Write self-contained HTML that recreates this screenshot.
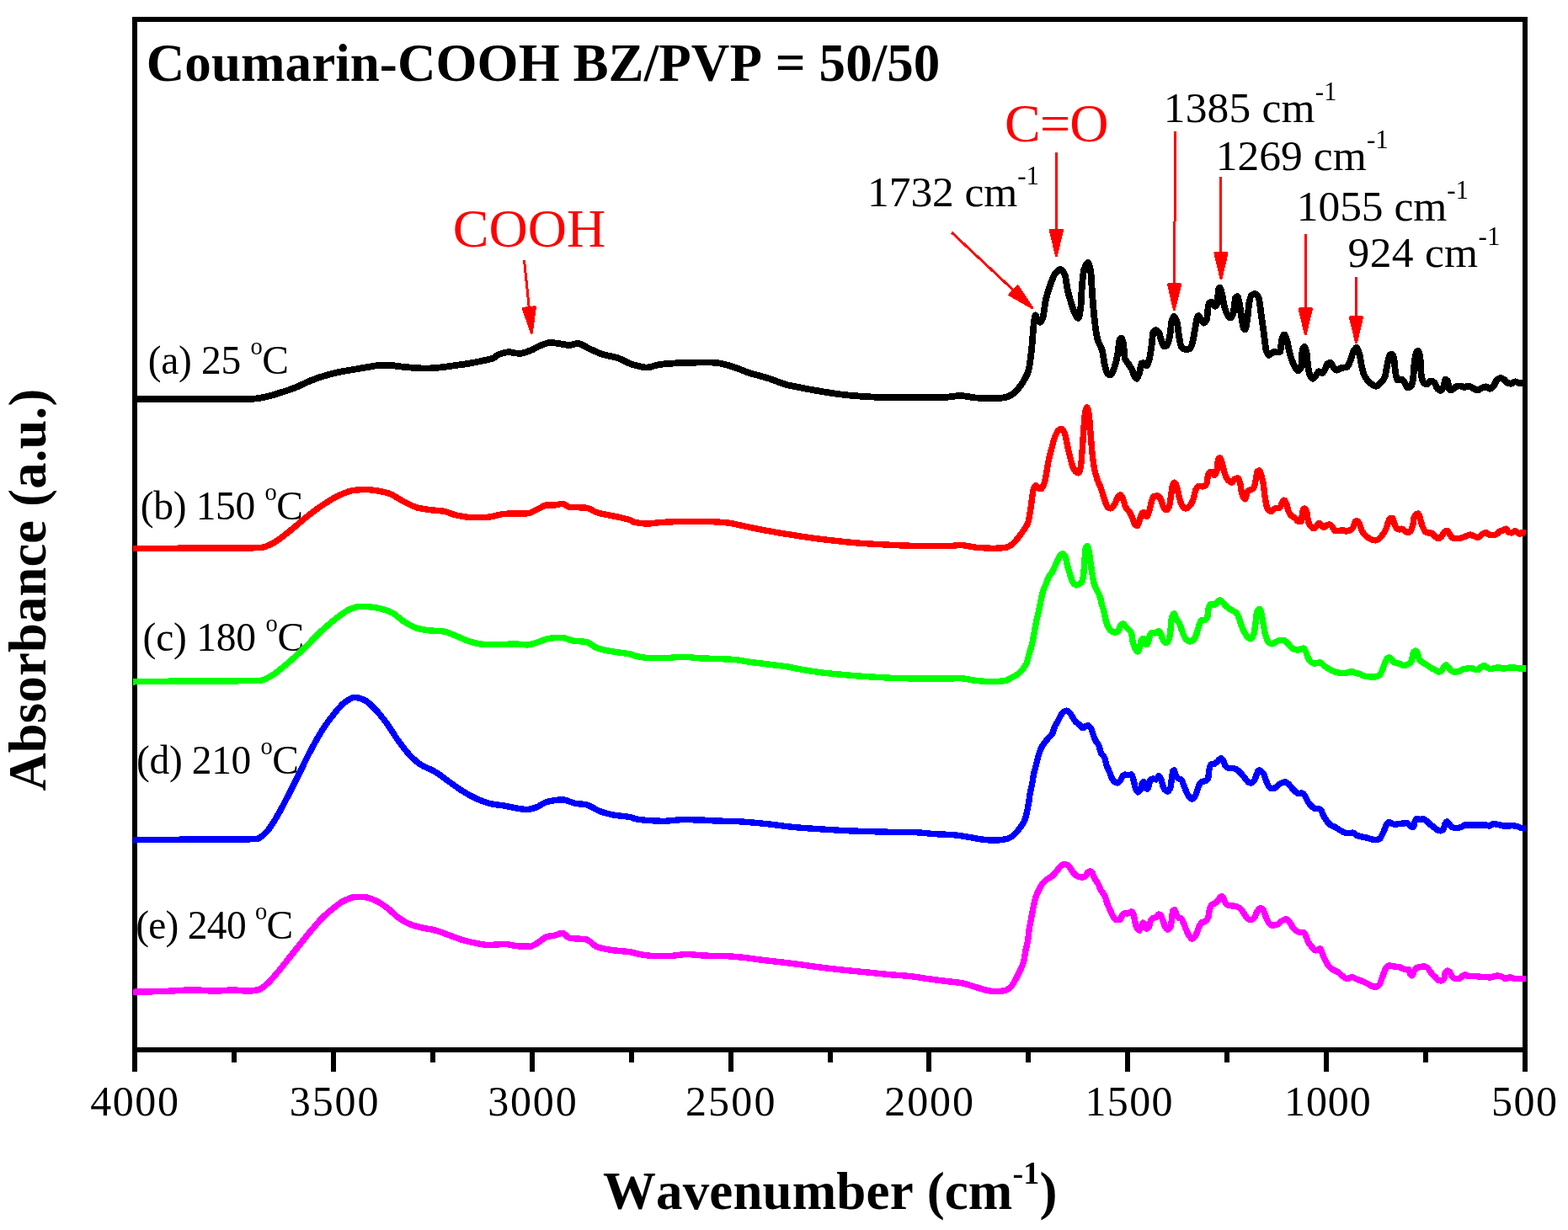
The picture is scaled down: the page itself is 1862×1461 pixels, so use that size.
<!DOCTYPE html>
<html lang="en">
<head>
<meta charset="utf-8">
<title>FTIR spectra - Coumarin-COOH BZ/PVP = 50/50</title>
<style>
html,body{margin:0;padding:0;background:#fff;}
body{width:1862px;height:1461px;overflow:hidden;}
svg{display:block;}
text{font-family:"Liberation Serif", "DejaVu Serif", serif;fill:#000;white-space:pre;font-kerning:none;}
.b{font-weight:bold;}
.r{fill:#ff0000;}
.crv{fill:none;stroke-linejoin:round;stroke-linecap:butt;shape-rendering:crispEdges;}
#arrows,#frame{shape-rendering:crispEdges;}
</style>
</head>
<body>
<svg width="1862" height="1461" viewBox="0 0 1862 1461">
<rect x="0" y="0" width="1862" height="1461" fill="#ffffff"/>

<g id="frame" stroke="#000" stroke-width="6" fill="none" stroke-linecap="butt">
<rect x="160.0" y="23.0" width="1651.0" height="1224.0"/>
<line x1="160.00" y1="1247.0" x2="160.00" y2="1273" stroke-width="6"/>
<line x1="277.93" y1="1247.0" x2="277.93" y2="1261.5" stroke-width="6"/>
<line x1="395.86" y1="1247.0" x2="395.86" y2="1273" stroke-width="6"/>
<line x1="513.79" y1="1247.0" x2="513.79" y2="1261.5" stroke-width="6"/>
<line x1="631.71" y1="1247.0" x2="631.71" y2="1273" stroke-width="6"/>
<line x1="749.64" y1="1247.0" x2="749.64" y2="1261.5" stroke-width="6"/>
<line x1="867.57" y1="1247.0" x2="867.57" y2="1273" stroke-width="6"/>
<line x1="985.50" y1="1247.0" x2="985.50" y2="1261.5" stroke-width="6"/>
<line x1="1103.43" y1="1247.0" x2="1103.43" y2="1273" stroke-width="6"/>
<line x1="1221.36" y1="1247.0" x2="1221.36" y2="1261.5" stroke-width="6"/>
<line x1="1339.29" y1="1247.0" x2="1339.29" y2="1273" stroke-width="6"/>
<line x1="1457.21" y1="1247.0" x2="1457.21" y2="1261.5" stroke-width="6"/>
<line x1="1575.14" y1="1247.0" x2="1575.14" y2="1273" stroke-width="6"/>
<line x1="1693.07" y1="1247.0" x2="1693.07" y2="1261.5" stroke-width="6"/>
<line x1="1811.00" y1="1247.0" x2="1811.00" y2="1273" stroke-width="6"/>
</g>
<g id="labels">
<text x="175.7" y="444.2" font-size="47.5" letter-spacing="-0.325">(a) 25 <tspan font-size="28.5" dy="-23">o</tspan><tspan dy="23">C</tspan></text>
<text x="166.8" y="617.1" font-size="47.5" letter-spacing="-0.344">(b) 150 <tspan font-size="28.5" dy="-23">o</tspan><tspan dy="23">C</tspan></text>
<text x="169.6" y="772.8" font-size="47.5" letter-spacing="-0.244">(c) 180 <tspan font-size="28.5" dy="-23">o</tspan><tspan dy="23">C</tspan></text>
<text x="162.1" y="918.9" font-size="47.5" letter-spacing="-0.378">(d) 210 <tspan font-size="28.5" dy="-23">o</tspan><tspan dy="23">C</tspan></text>
<text x="161.2" y="1114.9" font-size="47.5" letter-spacing="-0.733">(e) 240 <tspan font-size="28.5" dy="-23">o</tspan><tspan dy="23">C</tspan></text>
</g>
<g id="curves">
<path class="crv" stroke="#000000" stroke-width="7.8" d="M158.0,473.8C159.7,473.8 161.3,473.8 163.0,473.8C208.7,473.8 254.3,473.8 300.0,473.7C305.7,473.7 311.5,472.2 317.2,471.0C322.9,469.8 328.7,467.8 334.4,466.0C340.1,464.2 345.9,462.3 351.6,460.0C357.3,457.7 363.0,454.5 368.7,452.2C374.4,449.9 380.2,447.9 385.9,446.2C391.6,444.5 397.4,443.1 403.1,441.9C408.8,440.7 414.6,439.9 420.3,438.9C426.0,437.9 431.8,436.8 437.5,435.9C443.2,435.0 449.0,433.6 454.7,433.6C457.6,433.6 460.4,433.6 463.3,433.6C466.2,433.6 469.0,434.6 471.9,435.0C477.6,435.7 483.3,436.3 489.0,436.7C494.7,437.1 500.5,437.6 506.2,437.6C511.9,437.6 517.7,436.9 523.4,436.4C529.1,435.9 534.9,434.9 540.6,434.1C546.3,433.3 552.1,432.6 557.8,431.6C563.5,430.6 569.3,429.4 575.0,428.1C578.4,427.3 581.9,426.8 585.3,425.5C587.6,424.7 589.8,422.0 592.1,421.2C596.1,419.7 600.2,418.2 604.2,418.2C607.1,418.2 609.9,419.3 612.8,419.5C614.5,419.6 616.3,419.8 618.0,419.8C621.8,419.8 625.7,417.9 629.5,416.5C634.0,414.9 638.5,411.6 643.0,410.0C646.3,408.8 649.7,407.0 653.0,407.0C657.3,407.0 661.7,407.9 666.0,408.5C669.3,408.9 672.7,410.0 676.0,410.0C679.3,410.0 682.7,408.0 686.0,408.0C690.5,408.0 695.0,412.0 699.5,414.0C705.0,416.4 710.5,419.3 716.0,421.0C721.7,422.7 727.3,423.2 733.0,425.0C738.5,426.7 744.0,430.7 749.5,432.5C750.8,432.9 752.1,433.3 753.4,433.6C758.3,434.8 763.3,436.6 768.2,436.6C773.1,436.6 778.1,433.6 783.0,433.0C791.0,432.0 799.0,431.5 807.0,431.2C818.7,430.8 830.3,430.4 842.0,430.4C846.5,430.4 851.0,431.1 855.5,431.7C861.7,432.6 867.8,435.0 874.0,437.0C879.3,438.7 884.7,441.3 890.0,443.0C897.3,445.4 904.7,446.9 912.0,449.2C919.0,451.4 926.0,454.8 933.0,456.7C940.3,458.6 947.7,459.9 955.0,461.3C963.9,463.0 972.8,464.6 981.7,466.0C990.6,467.4 999.6,468.8 1008.5,469.6C1017.5,470.4 1026.4,471.1 1035.4,471.5C1044.3,471.9 1053.1,472.3 1062.0,472.3C1071.0,472.3 1080.0,472.3 1089.0,472.3C1099.8,472.3 1110.5,472.2 1121.3,472.0C1127.5,471.9 1133.8,470.0 1140.0,470.0C1146.3,470.0 1152.7,472.1 1159.0,472.5C1166.1,472.9 1173.3,473.3 1180.4,473.3C1184.9,473.3 1189.3,472.7 1193.8,472.0C1196.4,471.6 1199.1,470.2 1201.7,468.7C1204.6,467.0 1207.4,463.6 1210.3,460.1C1212.6,457.3 1214.9,454.1 1217.2,449.8C1218.6,447.1 1220.1,444.7 1221.5,439.5C1222.3,436.5 1223.2,430.3 1224.0,424.0C1224.6,419.4 1225.2,413.3 1225.8,406.9C1226.4,400.8 1226.9,390.7 1227.5,386.2C1228.2,380.7 1228.9,374.2 1229.6,374.2C1230.3,374.2 1231.1,378.3 1231.8,379.4C1232.9,381.0 1234.1,382.8 1235.2,382.8C1236.4,382.8 1237.5,379.5 1238.7,376.0C1239.8,372.7 1240.9,360.1 1242.0,355.3C1243.8,347.6 1245.5,342.9 1247.3,338.1C1249.3,332.7 1251.3,326.6 1253.3,324.4C1255.3,322.2 1257.3,320.0 1259.3,320.0C1261.0,320.0 1262.7,322.6 1264.4,326.0C1265.6,328.3 1266.7,339.9 1267.9,345.0C1269.3,351.3 1270.8,356.1 1272.2,360.5C1273.9,365.8 1275.6,371.4 1277.3,374.2C1278.3,375.9 1279.4,378.0 1280.4,378.0C1281.4,378.0 1282.3,372.5 1283.3,365.6C1283.9,361.6 1284.4,343.8 1285.0,338.0C1285.9,329.1 1286.7,321.6 1287.6,319.2C1289.1,315.1 1290.5,312.0 1292.0,312.0C1293.1,312.0 1294.3,317.2 1295.4,324.4C1295.9,327.8 1296.5,341.4 1297.0,348.4C1297.9,360.2 1298.8,371.7 1299.7,379.4C1300.8,388.8 1301.9,397.4 1303.0,401.7C1305.0,409.4 1307.0,409.6 1309.0,417.0C1309.9,420.3 1310.8,428.7 1311.7,432.6C1312.8,437.3 1313.9,442.9 1315.0,443.8C1316.2,444.8 1317.4,445.5 1318.6,445.5C1320.0,445.5 1321.5,441.3 1322.9,437.8C1324.3,434.3 1325.8,428.0 1327.2,420.6C1328.0,416.3 1328.9,404.7 1329.7,403.4C1330.3,402.4 1330.9,401.7 1331.5,401.7C1332.3,401.7 1333.2,404.9 1334.0,408.6C1334.6,411.2 1335.2,424.1 1335.8,425.8C1336.9,429.0 1338.1,429.2 1339.2,431.0C1340.9,433.7 1342.7,435.9 1344.4,439.5C1345.3,441.3 1346.1,444.8 1347.0,446.4C1347.8,447.9 1348.7,449.8 1349.5,449.8C1350.7,449.8 1351.8,446.2 1353.0,443.0C1353.8,440.7 1354.7,432.3 1355.5,431.8C1356.3,431.3 1357.2,431.0 1358.0,431.0C1359.2,431.0 1360.3,434.4 1361.5,434.4C1362.7,434.4 1363.8,429.9 1365.0,425.8C1365.9,422.7 1366.7,416.6 1367.6,410.3C1368.2,406.2 1368.7,395.9 1369.3,394.8C1370.2,393.1 1371.0,392.2 1371.9,392.2C1373.3,392.2 1374.8,393.2 1376.2,394.8C1377.0,395.7 1377.9,401.1 1378.7,403.4C1379.9,406.6 1381.0,411.2 1382.2,411.2C1383.3,411.2 1384.5,410.9 1385.6,410.3C1386.7,409.7 1387.9,404.9 1389.0,400.0C1389.9,396.2 1390.7,383.6 1391.6,381.0C1392.5,378.4 1393.3,376.0 1394.2,376.0C1395.3,376.0 1396.5,379.2 1397.6,382.8C1398.5,385.5 1399.3,395.3 1400.2,400.0C1401.1,404.7 1401.9,410.8 1402.8,412.0C1403.9,413.5 1405.1,414.6 1406.2,414.6C1408.2,414.6 1410.2,414.6 1412.2,414.6C1413.4,414.6 1414.5,411.6 1415.7,408.6C1416.8,405.7 1417.9,397.1 1419.0,391.4C1419.9,386.8 1420.8,379.6 1421.7,377.6C1422.3,376.3 1422.8,375.0 1423.4,375.0C1424.5,375.0 1425.7,379.5 1426.8,381.0C1427.7,382.1 1428.5,383.7 1429.4,383.7C1430.6,383.7 1431.7,382.0 1432.9,379.4C1433.7,377.6 1434.6,361.3 1435.4,360.5C1436.6,359.3 1437.7,358.7 1438.9,358.7C1440.3,358.7 1441.8,363.9 1443.2,363.9C1444.0,363.9 1444.9,361.9 1445.7,358.7C1446.1,357.0 1446.6,344.3 1447.0,343.3C1447.4,342.3 1447.9,341.6 1448.3,341.6C1449.2,341.6 1450.0,345.4 1450.9,348.4C1451.8,351.4 1452.6,358.9 1453.5,362.2C1454.9,367.6 1456.4,372.1 1457.8,374.2C1458.9,375.8 1460.1,377.6 1461.2,377.6C1462.4,377.6 1463.5,374.4 1464.7,370.8C1465.5,368.2 1466.4,354.8 1467.2,353.6C1467.9,352.6 1468.6,351.9 1469.3,351.9C1470.0,351.9 1470.8,355.6 1471.5,358.7C1472.4,362.3 1473.2,370.8 1474.1,375.9C1475.0,381.0 1475.8,388.3 1476.7,389.7C1477.3,390.6 1477.8,391.4 1478.4,391.4C1479.3,391.4 1480.1,385.7 1481.0,381.0C1481.9,376.3 1482.7,362.6 1483.6,358.7C1484.4,354.9 1485.3,351.7 1486.1,351.0C1487.5,349.8 1489.0,349.0 1490.4,349.0C1491.8,349.0 1493.3,350.8 1494.7,353.6C1495.6,355.3 1496.4,364.9 1497.3,370.8C1498.4,378.5 1499.6,386.7 1500.7,394.8C1501.7,402.2 1502.8,414.7 1503.8,417.2C1504.9,419.9 1506.1,422.0 1507.2,422.0C1508.8,422.0 1510.4,418.0 1512.0,418.0C1513.7,418.0 1515.5,418.5 1517.2,418.5C1518.3,418.5 1519.5,418.2 1520.6,417.2C1521.1,416.8 1521.5,405.1 1522.0,403.4C1523.0,399.8 1523.9,397.4 1524.9,397.4C1526.1,397.4 1527.2,401.6 1528.4,405.0C1529.5,408.3 1530.7,416.7 1531.8,420.6C1533.5,426.5 1535.3,431.2 1537.0,434.4C1538.4,437.0 1539.8,440.4 1541.2,440.4C1542.5,440.4 1543.7,439.0 1545.0,436.0C1545.6,434.7 1546.1,417.1 1546.7,415.5C1547.5,413.3 1548.2,412.0 1549.0,412.0C1549.9,412.0 1550.7,415.2 1551.6,419.0C1552.2,421.5 1552.7,432.7 1553.3,436.0C1554.2,441.1 1555.0,445.0 1555.9,446.4C1557.0,448.3 1558.2,449.8 1559.3,449.8C1560.7,449.8 1562.2,446.5 1563.6,444.7C1564.5,443.6 1565.3,441.2 1566.2,441.2C1567.6,441.2 1569.1,443.0 1570.5,443.0C1571.6,443.0 1572.8,439.9 1573.9,437.8C1574.8,436.2 1575.6,432.2 1576.5,431.8C1577.6,431.3 1578.8,431.0 1579.9,431.0C1581.0,431.0 1582.2,434.7 1583.3,436.0C1584.7,437.6 1586.2,439.8 1587.6,439.8C1589.3,439.8 1591.1,437.4 1592.8,437.0C1595.1,436.5 1597.4,436.7 1599.7,436.0C1600.8,435.7 1602.0,431.8 1603.1,429.2C1604.5,425.9 1606.0,419.7 1607.4,417.2C1608.5,415.3 1609.7,412.9 1610.8,412.9C1612.0,412.9 1613.1,416.9 1614.3,420.6C1615.2,423.4 1616.0,430.7 1616.9,434.4C1618.0,439.2 1619.2,444.2 1620.3,446.4C1622.6,450.9 1624.9,453.2 1627.2,455.0C1629.5,456.7 1631.7,458.8 1634.0,458.8C1636.3,458.8 1638.7,455.8 1641.0,453.3C1642.1,452.1 1643.3,450.7 1644.4,448.0C1645.5,445.3 1646.7,435.8 1647.8,431.0C1648.7,427.4 1649.5,422.0 1650.4,421.5C1651.3,421.0 1652.1,420.6 1653.0,420.6C1653.8,420.6 1654.7,423.8 1655.5,427.5C1656.1,430.0 1656.6,440.2 1657.2,443.0C1658.1,447.3 1658.9,451.5 1659.8,451.5C1661.5,451.5 1663.3,450.7 1665.0,450.7C1666.1,450.7 1667.3,453.3 1668.4,455.0C1669.3,456.3 1670.1,460.0 1671.0,460.0C1672.4,460.0 1673.9,459.8 1675.3,459.3C1676.2,459.0 1677.0,455.8 1677.9,451.5C1678.5,448.7 1679.0,435.1 1679.6,431.0C1680.5,424.7 1681.3,418.9 1682.2,418.0C1682.9,417.3 1683.5,416.8 1684.2,416.8C1685.0,416.8 1685.7,420.7 1686.5,425.8C1686.9,428.5 1687.3,442.3 1687.7,444.7C1688.7,451.0 1689.8,454.1 1690.8,455.0C1691.9,456.0 1693.1,456.7 1694.2,456.7C1695.9,456.7 1697.6,452.4 1699.3,452.4C1700.7,452.4 1702.2,453.6 1703.6,455.0C1704.7,456.1 1705.9,460.8 1707.0,461.8C1708.2,462.9 1709.3,463.9 1710.5,463.9C1711.7,463.9 1712.8,462.1 1714.0,460.0C1714.8,458.5 1715.7,450.7 1716.5,450.7C1717.3,450.7 1718.2,451.4 1719.0,452.4C1719.6,453.2 1720.2,461.0 1720.8,461.8C1721.7,462.9 1722.5,463.6 1723.4,463.6C1725.1,463.6 1726.9,459.8 1728.6,459.3C1730.3,458.8 1732.0,458.4 1733.7,458.4C1735.4,458.4 1737.2,460.0 1738.9,460.0C1740.6,460.0 1742.3,458.4 1744.0,458.4C1745.7,458.4 1747.5,460.1 1749.2,461.0C1750.9,461.9 1752.6,463.6 1754.3,463.6C1756.0,463.6 1757.8,461.7 1759.5,461.0C1761.2,460.3 1762.9,459.3 1764.6,459.3C1766.1,459.3 1767.5,461.8 1769.0,461.8C1770.4,461.8 1771.8,460.6 1773.2,459.3C1774.6,458.0 1776.1,452.8 1777.5,451.5C1778.9,450.2 1780.4,449.0 1781.8,449.0C1783.2,449.0 1784.7,449.9 1786.1,450.7C1787.5,451.5 1789.0,454.6 1790.4,455.0C1791.8,455.4 1793.3,455.8 1794.7,455.8C1796.1,455.8 1797.6,453.3 1799.0,453.3C1800.7,453.3 1802.5,454.7 1804.2,455.0C1806.8,455.4 1809.4,455.5 1812.0,455.8"/>
<path class="crv" stroke="#ff0000" stroke-width="7.4" d="M158.0,651.5C158.7,651.5 159.3,651.5 160.0,651.5C183.3,651.5 206.6,651.1 229.9,651.1C247.7,651.1 265.4,651.1 283.2,651.1C292.1,651.1 300.9,650.9 309.8,650.5C314.2,650.3 318.7,647.9 323.1,645.8C329.8,642.7 336.4,636.6 343.1,631.5C349.8,626.4 356.4,620.0 363.1,614.8C369.8,609.6 376.4,604.3 383.1,599.9C389.8,595.5 396.4,591.1 403.1,588.2C408.6,585.8 414.2,583.2 419.7,582.5C424.1,582.0 428.6,581.5 433.0,581.5C438.6,581.5 444.1,582.4 449.7,583.2C454.1,583.9 458.6,585.0 463.0,586.5C468.5,588.4 474.1,593.2 479.6,595.9C485.2,598.6 490.7,601.8 496.3,603.2C500.7,604.3 505.2,604.9 509.6,605.5C515.2,606.2 520.7,606.4 526.3,607.2C531.8,608.0 537.4,611.2 542.9,612.2C548.5,613.3 554.0,614.5 559.6,614.5C566.2,614.5 572.9,614.4 579.5,614.2C585.1,614.0 590.6,611.4 596.2,610.8C600.6,610.3 605.1,609.8 609.5,609.8C615.1,609.8 620.6,609.8 626.2,609.8C630.6,609.8 635.1,606.1 639.5,604.2C642.8,602.8 646.2,599.9 649.5,599.9C652.8,599.9 656.2,599.9 659.5,599.9C662.3,599.9 665.0,598.2 667.8,598.2C670.6,598.2 673.3,601.9 676.1,602.2C682.8,602.9 689.4,602.6 696.1,603.2C700.5,603.6 705.0,607.6 709.4,608.9C716.1,610.9 722.7,611.7 729.4,613.2C736.1,614.7 742.7,615.7 749.4,618.2C750.7,618.7 752.1,620.1 753.4,620.4C758.8,621.4 764.1,622.0 769.5,622.0C774.9,622.0 780.2,620.7 785.6,620.4C793.7,620.0 801.7,619.6 809.8,619.6C822.3,619.6 834.9,619.7 847.4,619.8C852.8,619.9 858.1,620.4 863.5,620.9C870.7,621.6 877.8,623.8 885.0,625.2C894.0,627.0 902.9,629.0 911.9,630.6C920.8,632.2 929.8,633.7 938.7,635.1C947.7,636.5 956.6,638.0 965.6,639.2C974.5,640.4 983.5,641.4 992.4,642.4C1001.4,643.4 1010.3,644.4 1019.3,645.1C1028.2,645.8 1037.2,646.2 1046.1,646.7C1055.1,647.2 1064.0,647.7 1073.0,648.0C1081.9,648.3 1090.9,648.6 1099.8,648.6C1108.8,648.6 1117.7,648.6 1126.7,648.6C1131.2,648.6 1135.6,647.5 1140.1,647.5C1146.4,647.5 1152.6,649.7 1158.9,650.2C1166.1,650.7 1173.2,651.3 1180.4,651.3C1184.9,651.3 1189.3,651.0 1193.8,650.5C1195.9,650.3 1197.9,649.1 1200.0,647.9C1202.9,646.2 1205.7,642.6 1208.6,639.3C1210.9,636.6 1213.2,633.3 1215.5,629.8C1217.2,627.2 1218.9,625.7 1220.6,621.2C1221.6,618.5 1222.7,612.0 1223.7,605.8C1224.4,601.6 1225.1,594.9 1225.8,590.3C1226.4,586.5 1226.9,581.3 1227.5,580.0C1228.4,578.0 1229.2,576.6 1230.1,576.6C1231.2,576.6 1232.4,579.5 1233.5,580.0C1234.4,580.4 1235.2,580.8 1236.1,580.8C1237.5,580.8 1239.0,577.1 1240.4,573.1C1241.3,570.7 1242.1,564.1 1243.0,559.4C1243.8,554.9 1244.7,549.5 1245.5,545.6C1246.7,540.2 1247.8,536.2 1249.0,531.9C1250.1,527.7 1251.3,522.7 1252.4,519.8C1253.8,516.1 1255.3,512.5 1256.7,511.2C1257.9,510.2 1259.0,509.2 1260.2,509.2C1261.6,509.2 1263.0,511.8 1264.4,514.7C1265.4,516.8 1266.4,523.9 1267.4,528.4C1268.4,533.1 1269.5,538.1 1270.5,542.2C1271.6,546.7 1272.8,551.5 1273.9,554.2C1275.0,556.9 1276.2,559.3 1277.3,560.2C1278.3,561.1 1279.4,561.9 1280.4,561.9C1281.4,561.9 1282.4,558.6 1283.4,554.2C1284.0,551.7 1284.5,542.4 1285.1,535.3C1285.7,528.2 1286.2,518.6 1286.8,511.2C1287.4,503.8 1287.9,493.5 1288.5,490.6C1289.2,486.9 1290.0,483.7 1290.7,483.7C1291.5,483.7 1292.3,487.8 1293.1,492.3C1293.7,495.7 1294.3,506.0 1294.9,513.0C1295.6,521.5 1296.4,532.1 1297.1,538.7C1298.0,546.5 1298.8,553.4 1299.7,557.6C1300.8,563.1 1302.0,566.4 1303.1,569.7C1304.5,573.8 1306.0,576.1 1307.4,580.0C1308.8,583.9 1310.3,589.7 1311.7,593.7C1312.8,596.9 1314.0,601.4 1315.1,602.3C1316.3,603.3 1317.4,604.0 1318.6,604.0C1320.3,604.0 1322.0,601.3 1323.7,598.9C1325.1,596.9 1326.6,590.8 1328.0,589.4C1328.9,588.6 1329.7,587.7 1330.6,587.7C1331.7,587.7 1332.9,591.1 1334.0,593.7C1334.9,595.7 1335.7,600.7 1336.6,602.3C1338.0,604.9 1339.5,605.3 1340.9,607.5C1342.1,609.3 1343.2,611.8 1344.4,614.4C1345.5,616.9 1346.7,621.9 1347.8,623.0C1348.7,623.9 1349.5,624.7 1350.4,624.7C1351.5,624.7 1352.7,619.0 1353.8,616.1C1354.7,613.9 1355.5,609.4 1356.4,609.2C1357.3,609.0 1358.1,608.9 1359.0,608.9C1359.8,608.9 1360.7,613.5 1361.5,613.5C1362.7,613.5 1363.8,609.1 1365.0,605.8C1365.9,603.3 1366.7,598.1 1367.6,595.5C1368.4,593.0 1369.3,589.5 1370.1,589.4C1371.8,589.2 1373.6,589.1 1375.3,589.1C1376.4,589.1 1377.6,591.6 1378.7,593.7C1379.6,595.3 1380.4,599.9 1381.3,601.5C1382.4,603.6 1383.6,605.8 1384.7,605.8C1385.9,605.8 1387.0,604.4 1388.2,602.3C1389.1,600.8 1389.9,592.1 1390.8,586.9C1391.4,583.5 1391.9,578.1 1392.5,576.6C1393.2,574.7 1394.0,573.1 1394.7,573.1C1395.7,573.1 1396.6,575.8 1397.6,578.3C1398.5,580.6 1399.3,587.2 1400.2,590.3C1401.4,594.5 1402.5,599.1 1403.7,600.6C1405.1,602.4 1406.5,604.0 1407.9,604.0C1409.6,604.0 1411.4,602.3 1413.1,600.6C1414.5,599.2 1416.0,595.9 1417.4,592.0C1418.3,589.6 1419.1,583.4 1420.0,581.7C1421.1,579.5 1422.3,577.4 1423.4,577.4C1425.1,577.4 1426.9,577.9 1428.6,577.9C1430.0,577.9 1431.5,576.9 1432.9,574.8C1433.5,574.0 1434.0,565.8 1434.6,564.5C1435.7,561.9 1436.9,560.2 1438.0,560.2C1439.4,560.2 1440.9,564.5 1442.3,564.5C1443.2,564.5 1444.0,562.3 1444.9,559.4C1445.5,557.5 1446.0,546.5 1446.6,545.6C1447.3,544.5 1448.0,543.9 1448.7,543.9C1449.4,543.9 1450.2,546.9 1450.9,549.1C1451.8,551.6 1452.6,556.8 1453.5,559.4C1454.9,563.8 1456.4,568.2 1457.8,569.7C1459.5,571.5 1461.2,573.1 1462.9,573.1C1464.1,573.1 1465.2,569.3 1466.4,568.8C1467.5,568.4 1468.7,568.0 1469.8,568.0C1470.7,568.0 1471.5,570.6 1472.4,573.1C1473.3,575.6 1474.1,584.6 1475.0,586.9C1476.1,590.0 1477.3,592.9 1478.4,592.9C1479.5,592.9 1480.7,584.3 1481.8,583.4C1483.0,582.4 1484.1,582.3 1485.3,581.7C1486.4,581.1 1487.6,581.0 1488.7,580.0C1489.6,579.2 1490.4,573.8 1491.3,569.7C1491.9,567.0 1492.4,560.8 1493.0,560.2C1493.8,559.4 1494.5,558.9 1495.3,558.9C1496.3,558.9 1497.2,563.2 1498.2,566.2C1498.8,568.1 1499.4,570.1 1500.0,573.1C1500.9,577.5 1501.7,589.1 1502.6,593.7C1503.5,598.3 1504.3,602.8 1505.2,604.0C1506.6,606.0 1508.1,607.5 1509.5,607.5C1511.2,607.5 1512.9,604.0 1514.6,603.7C1516.3,603.4 1518.1,603.6 1519.8,603.2C1520.6,603.0 1521.5,598.5 1522.3,597.2C1523.2,595.8 1524.0,594.1 1524.9,594.1C1525.8,594.1 1526.6,596.2 1527.5,598.0C1528.4,599.8 1529.2,605.6 1530.1,607.5C1531.2,610.0 1532.4,611.6 1533.5,612.6C1534.9,613.9 1536.4,614.1 1537.8,615.2C1539.2,616.3 1540.7,619.5 1542.1,619.5C1543.2,619.5 1544.4,619.5 1545.5,619.5C1545.9,619.5 1546.3,608.6 1546.7,607.5C1547.5,605.3 1548.2,604.0 1549.0,604.0C1549.9,604.0 1550.7,605.5 1551.6,607.5C1552.3,609.0 1552.9,617.5 1553.6,619.5C1554.6,622.6 1555.7,624.5 1556.7,625.5C1557.9,626.7 1559.0,627.8 1560.2,627.8C1561.3,627.8 1562.5,625.8 1563.6,624.7C1564.6,623.7 1565.7,621.2 1566.7,621.2C1567.7,621.2 1568.6,623.9 1569.6,624.7C1570.5,625.4 1571.3,626.4 1572.2,626.4C1573.3,626.4 1574.5,624.2 1575.6,623.8C1576.8,623.4 1577.9,623.0 1579.1,623.0C1580.2,623.0 1581.4,625.1 1582.5,626.4C1583.6,627.7 1584.8,630.7 1585.9,630.7C1587.6,630.7 1589.4,630.4 1591.1,630.2C1592.2,630.1 1593.4,629.8 1594.5,629.8C1595.9,629.8 1597.4,631.0 1598.8,631.0C1600.2,631.0 1601.7,630.4 1603.1,629.8C1604.5,629.2 1606.0,627.9 1607.4,625.5C1608.0,624.5 1608.5,619.9 1609.1,619.5C1609.9,619.0 1610.6,618.7 1611.4,618.7C1612.4,618.7 1613.3,620.5 1614.3,622.1C1615.2,623.6 1616.0,628.0 1616.9,629.8C1618.0,632.1 1619.2,633.8 1620.3,635.0C1622.0,636.9 1623.8,638.3 1625.5,639.3C1627.2,640.3 1628.9,641.2 1630.6,641.5C1631.7,641.7 1632.9,641.9 1634.0,641.9C1635.4,641.9 1636.9,640.5 1638.3,639.3C1639.7,638.1 1641.2,636.1 1642.6,634.1C1643.8,632.4 1644.9,630.8 1646.1,628.1C1647.0,626.1 1647.8,621.5 1648.7,619.5C1649.5,617.6 1650.4,615.2 1651.2,615.2C1652.1,615.2 1652.9,615.2 1653.8,615.2C1654.4,615.2 1654.9,619.6 1655.5,621.2C1656.4,623.7 1657.2,626.6 1658.1,627.3C1659.2,628.3 1660.4,629.0 1661.5,629.0C1662.7,629.0 1663.8,628.1 1665.0,628.1C1666.1,628.1 1667.3,630.0 1668.4,630.7C1669.6,631.5 1670.7,632.7 1671.9,632.7C1673.0,632.7 1674.2,631.8 1675.3,630.7C1676.2,629.8 1677.0,626.7 1677.9,623.0C1678.3,621.3 1678.7,616.3 1679.1,615.2C1680.1,612.4 1681.2,611.0 1682.2,610.6C1682.9,610.3 1683.5,610.1 1684.2,610.1C1685.0,610.1 1685.7,613.8 1686.5,616.1C1687.3,618.6 1688.2,622.6 1689.0,624.7C1690.2,627.6 1691.3,630.7 1692.5,631.5C1693.6,632.3 1694.8,632.7 1695.9,632.9C1697.3,633.1 1698.8,633.0 1700.2,633.3C1701.4,633.5 1702.5,635.8 1703.7,636.7C1705.1,637.8 1706.5,639.6 1707.9,639.6C1709.1,639.6 1710.2,638.6 1711.4,637.6C1712.5,636.7 1713.7,633.4 1714.8,632.4C1716.0,631.4 1717.1,630.2 1718.3,630.2C1719.1,630.2 1720.0,632.2 1720.8,633.3C1722.0,634.9 1723.1,637.8 1724.3,638.4C1725.7,639.2 1727.2,639.8 1728.6,639.8C1730.3,639.8 1732.0,639.6 1733.7,639.3C1735.4,639.0 1737.2,638.2 1738.9,637.6C1740.0,637.2 1741.2,636.8 1742.3,636.4C1743.5,636.0 1744.6,635.0 1745.8,635.0C1747.2,635.0 1748.7,636.2 1750.1,636.7C1751.8,637.3 1753.5,638.4 1755.2,638.4C1756.6,638.4 1758.1,635.9 1759.5,635.0C1761.2,633.9 1763.0,632.4 1764.7,632.4C1765.8,632.4 1767.0,634.7 1768.1,635.0C1769.8,635.5 1771.6,635.8 1773.3,635.8C1774.7,635.8 1776.2,634.9 1777.6,634.1C1779.0,633.4 1780.4,631.2 1781.8,630.7C1783.0,630.3 1784.1,630.2 1785.3,629.8C1786.3,629.4 1787.4,628.1 1788.4,628.1C1789.4,628.1 1790.3,632.2 1791.3,632.4C1792.7,632.7 1794.2,632.9 1795.6,632.9C1796.7,632.9 1797.9,630.7 1799.0,630.7C1800.7,630.7 1802.5,634.1 1804.2,634.1C1805.3,634.1 1806.5,632.4 1807.6,632.4C1809.0,632.4 1810.5,633.0 1811.9,633.3"/>
<path class="crv" stroke="#00ff00" stroke-width="7.4" d="M158.0,809.8C158.7,809.8 159.3,809.8 160.0,809.8C183.3,809.8 206.6,808.8 229.9,808.8C247.7,808.8 265.4,808.8 283.2,808.8C292.1,808.8 300.9,808.6 309.8,808.2C313.7,808.0 317.6,805.3 321.5,803.2C328.7,799.3 335.9,792.5 343.1,786.5C349.8,780.9 356.4,774.6 363.1,768.2C369.8,761.8 376.4,754.2 383.1,748.2C389.8,742.2 396.4,736.3 403.1,731.6C407.5,728.4 412.0,724.8 416.4,723.2C420.3,721.8 424.1,720.2 428.0,720.2C431.9,720.2 435.8,720.6 439.7,720.9C444.1,721.3 448.6,722.1 453.0,723.2C457.4,724.3 461.9,726.0 466.3,728.2C470.7,730.4 475.2,735.5 479.6,738.2C485.2,741.6 490.7,745.2 496.3,746.6C500.7,747.7 505.2,748.5 509.6,748.9C515.2,749.4 520.7,749.3 526.3,749.9C531.8,750.5 537.4,753.8 542.9,755.9C548.5,758.0 554.0,761.1 559.6,762.5C565.1,763.9 570.7,765.5 576.2,765.5C582.9,765.5 589.5,765.5 596.2,765.5C600.6,765.5 605.1,764.9 609.5,764.9C615.1,764.9 620.6,765.9 626.2,765.9C630.6,765.9 635.1,763.8 639.5,762.5C643.9,761.2 648.4,758.7 652.8,758.2C657.8,757.6 662.8,757.2 667.8,757.2C671.7,757.2 675.5,760.3 679.4,760.9C685.0,761.7 690.5,761.6 696.1,762.5C700.5,763.2 705.0,768.5 709.4,769.9C716.1,772.0 722.7,773.0 729.4,774.2C736.1,775.4 742.7,775.6 749.4,777.2C750.7,777.5 752.1,778.5 753.4,778.8C758.8,780.2 764.1,781.3 769.5,781.5C775.8,781.7 782.0,781.8 788.3,781.8C795.5,781.8 802.6,780.2 809.8,780.2C817.0,780.2 824.1,781.4 831.3,781.8C838.5,782.2 845.6,782.3 852.8,782.6C859.1,782.8 865.3,783.0 871.6,783.4C877.9,783.8 884.1,785.4 890.4,786.3C897.6,787.3 904.7,788.1 911.9,789.0C919.0,789.9 926.2,790.6 933.3,791.7C940.5,792.8 947.6,794.5 954.8,795.7C962.0,796.9 969.1,798.1 976.3,799.0C983.5,799.9 990.6,800.4 997.8,801.1C1005.0,801.8 1012.1,802.5 1019.3,803.0C1026.5,803.5 1033.6,803.9 1040.8,804.3C1047.9,804.7 1055.1,805.2 1062.2,805.4C1071.2,805.7 1080.1,805.9 1089.1,806.0C1098.0,806.1 1107.0,806.2 1115.9,806.2C1124.0,806.2 1132.0,805.7 1140.1,805.7C1146.4,805.7 1152.6,807.8 1158.9,808.4C1165.2,809.0 1171.4,809.7 1177.7,809.7C1183.1,809.7 1188.4,809.3 1193.8,808.6C1195.9,808.3 1197.9,806.7 1200.0,805.6C1202.3,804.4 1204.6,803.4 1206.9,801.9C1209.2,800.4 1211.4,798.4 1213.7,795.8C1215.4,793.8 1217.2,791.8 1218.9,788.1C1220.0,785.7 1221.2,780.1 1222.3,776.1C1223.5,772.0 1224.6,768.9 1225.8,764.0C1226.7,760.3 1227.5,755.0 1228.4,750.3C1229.2,745.8 1230.1,740.5 1230.9,736.6C1231.8,732.6 1232.6,730.1 1233.5,726.2C1234.4,722.3 1235.2,716.4 1236.1,712.5C1237.0,708.6 1237.8,704.9 1238.7,702.2C1239.8,698.7 1241.0,696.5 1242.1,693.6C1243.2,690.7 1244.4,687.1 1245.5,685.0C1246.9,682.4 1248.4,681.5 1249.8,679.0C1251.0,677.0 1252.1,673.7 1253.3,671.2C1254.4,668.8 1255.6,666.7 1256.7,664.4C1257.6,662.6 1258.4,659.5 1259.3,658.9C1260.2,658.3 1261.0,657.8 1261.9,657.8C1263.0,657.8 1264.2,659.6 1265.3,661.8C1266.0,663.2 1266.7,668.5 1267.4,671.2C1268.4,675.2 1269.5,678.3 1270.5,681.6C1271.3,684.3 1272.2,687.5 1273.0,689.3C1273.9,691.2 1274.7,692.9 1275.6,693.6C1276.5,694.3 1277.3,695.0 1278.2,695.0C1279.6,695.0 1281.1,694.1 1282.5,693.2C1283.4,692.6 1284.2,691.9 1285.1,690.2C1285.7,689.1 1286.2,686.0 1286.8,681.6C1287.2,678.5 1287.6,669.1 1288.0,664.4C1288.5,658.9 1288.9,651.6 1289.4,650.6C1290.0,649.4 1290.5,648.6 1291.1,648.6C1291.8,648.6 1292.4,651.4 1293.1,654.1C1293.7,656.5 1294.3,663.7 1294.9,667.8C1295.6,672.9 1296.4,677.3 1297.1,681.6C1297.8,685.9 1298.6,691.2 1299.3,693.6C1300.6,697.8 1301.8,699.4 1303.1,702.2C1304.3,704.8 1305.4,706.3 1306.6,709.9C1307.2,711.6 1307.7,715.5 1308.3,717.6C1309.1,720.7 1310.0,722.1 1310.8,725.4C1311.4,727.8 1312.0,732.4 1312.6,734.8C1313.4,738.1 1314.3,740.7 1315.1,742.6C1316.3,745.2 1317.4,747.5 1318.6,748.6C1319.7,749.7 1320.9,750.8 1322.0,750.8C1323.4,750.8 1324.9,750.8 1326.3,750.8C1327.2,750.8 1328.0,749.2 1328.9,747.7C1329.5,746.7 1330.0,743.2 1330.6,742.6C1331.6,741.5 1332.7,740.8 1333.7,740.8C1334.7,740.8 1335.6,743.3 1336.6,744.3C1337.8,745.6 1338.9,746.4 1340.1,747.7C1341.2,748.9 1342.4,749.4 1343.5,752.0C1344.1,753.3 1344.6,760.0 1345.2,762.3C1346.1,765.9 1346.9,768.5 1347.8,770.1C1348.8,772.0 1349.9,774.0 1350.9,774.0C1351.9,774.0 1352.8,770.5 1353.8,767.5C1354.4,765.7 1354.9,760.3 1355.5,759.8C1356.4,759.0 1357.2,758.5 1358.1,758.5C1358.7,758.5 1359.2,760.3 1359.8,761.5C1360.4,762.7 1360.9,765.8 1361.5,765.8C1362.4,765.8 1363.2,763.0 1364.1,760.6C1364.7,759.0 1365.2,754.6 1365.8,753.7C1366.7,752.3 1367.5,751.2 1368.4,751.2C1369.6,751.2 1370.7,752.0 1371.9,752.0C1373.3,752.0 1374.8,749.4 1376.2,749.4C1377.0,749.4 1377.9,752.0 1378.7,753.7C1379.6,755.5 1380.4,759.4 1381.3,760.6C1382.4,762.2 1383.6,763.7 1384.7,763.7C1385.9,763.7 1387.0,762.2 1388.2,759.8C1388.8,758.6 1389.3,752.9 1389.9,748.6C1390.5,744.3 1391.0,734.8 1391.6,733.1C1392.5,730.6 1393.3,728.8 1394.2,728.8C1395.1,728.8 1395.9,733.2 1396.8,734.8C1397.9,736.9 1399.1,737.8 1400.2,740.0C1401.1,741.7 1401.9,744.6 1402.8,746.9C1403.7,749.2 1404.5,751.8 1405.4,753.7C1406.5,756.1 1407.7,758.9 1408.8,759.8C1410.2,761.0 1411.7,762.0 1413.1,762.0C1414.8,762.0 1416.6,760.6 1418.3,758.9C1419.4,757.8 1420.6,753.6 1421.7,750.3C1422.6,747.8 1423.4,743.8 1424.3,741.7C1425.2,739.6 1426.0,736.8 1426.9,736.6C1428.3,736.3 1429.7,736.5 1431.1,736.2C1432.0,736.0 1432.8,735.0 1433.7,733.1C1434.3,731.9 1434.8,722.5 1435.4,721.1C1436.3,718.9 1437.1,717.3 1438.0,717.3C1439.4,717.3 1440.9,718.5 1442.3,718.5C1443.5,718.5 1444.6,716.2 1445.8,715.1C1446.6,714.3 1447.5,712.8 1448.3,712.8C1449.5,712.8 1450.6,714.1 1451.8,715.1C1452.9,716.1 1454.1,718.3 1455.2,719.4C1456.6,720.8 1458.1,721.8 1459.5,722.8C1461.2,724.0 1463.0,724.8 1464.7,725.9C1466.1,726.8 1467.6,727.2 1469.0,728.8C1469.8,729.7 1470.7,732.6 1471.5,734.8C1472.7,737.9 1473.8,742.3 1475.0,745.1C1476.4,748.5 1477.9,751.5 1479.3,753.7C1480.4,755.4 1481.6,757.4 1482.7,758.0C1483.7,758.5 1484.6,758.9 1485.6,758.9C1486.6,758.9 1487.7,756.5 1488.7,753.7C1489.4,751.8 1490.1,746.6 1490.8,741.7C1491.3,738.5 1491.7,731.9 1492.2,729.7C1492.8,727.0 1493.3,724.5 1493.9,724.2C1494.6,723.9 1495.2,723.7 1495.9,723.7C1496.7,723.7 1497.4,726.9 1498.2,729.7C1498.8,731.9 1499.4,736.7 1500.0,740.0C1500.9,744.8 1501.7,750.7 1502.6,753.7C1503.7,757.6 1504.9,761.2 1506.0,762.3C1507.4,763.7 1508.9,764.9 1510.3,764.9C1512.0,764.9 1513.8,763.1 1515.5,762.3C1516.9,761.6 1518.4,760.3 1519.8,760.3C1521.2,760.3 1522.7,760.3 1524.1,760.3C1525.5,760.3 1527.0,762.0 1528.4,763.2C1529.8,764.4 1531.3,767.0 1532.7,768.3C1534.1,769.5 1535.5,770.9 1536.9,771.3C1538.3,771.7 1539.8,772.1 1541.2,772.1C1542.4,772.1 1543.5,771.2 1544.7,770.9C1545.8,770.6 1547.0,770.1 1548.1,770.1C1549.0,770.1 1549.8,772.6 1550.7,774.4C1551.6,776.2 1552.4,779.5 1553.3,781.2C1554.4,783.4 1555.6,785.7 1556.7,786.4C1558.1,787.3 1559.6,788.1 1561.0,788.1C1562.1,788.1 1563.3,787.5 1564.4,787.3C1565.6,787.1 1566.7,786.9 1567.9,786.9C1569.3,786.9 1570.8,789.6 1572.2,790.7C1573.9,792.0 1575.6,793.1 1577.3,794.1C1579.6,795.4 1581.9,796.8 1584.2,797.6C1586.5,798.4 1588.8,799.0 1591.1,799.3C1593.1,799.5 1595.1,799.8 1597.1,799.8C1598.5,799.8 1600.0,798.6 1601.4,798.4C1602.8,798.2 1604.3,797.9 1605.7,797.9C1607.1,797.9 1608.6,798.9 1610.0,799.3C1611.7,799.8 1613.4,800.1 1615.1,800.7C1616.8,801.3 1618.6,802.8 1620.3,803.1C1622.6,803.5 1624.9,803.9 1627.2,803.9C1629.5,803.9 1631.7,803.9 1634.0,803.9C1635.4,803.9 1636.9,803.0 1638.3,801.9C1639.5,801.0 1640.6,797.7 1641.8,795.0C1642.7,793.0 1643.5,790.3 1644.4,788.1C1645.2,786.0 1646.1,782.7 1646.9,782.1C1647.8,781.4 1648.6,780.9 1649.5,780.9C1650.7,780.9 1651.8,782.7 1653.0,783.8C1654.1,784.8 1655.3,787.0 1656.4,787.3C1658.1,787.8 1659.8,787.7 1661.5,788.1C1663.2,788.5 1665.0,790.7 1666.7,790.7C1668.4,790.7 1670.2,789.8 1671.9,789.0C1673.3,788.3 1674.8,787.8 1676.2,785.5C1676.8,784.6 1677.3,777.5 1677.9,776.1C1678.5,774.7 1679.0,773.8 1679.6,773.5C1680.2,773.2 1680.7,773.0 1681.3,773.0C1682.2,773.0 1683.0,775.7 1683.9,777.8C1684.5,779.2 1685.0,783.0 1685.6,783.8C1686.7,785.3 1687.9,785.6 1689.0,786.4C1690.7,787.6 1692.5,788.7 1694.2,789.8C1695.9,790.9 1697.7,792.3 1699.4,793.3C1701.1,794.3 1702.8,794.9 1704.5,795.8C1705.9,796.5 1707.4,798.1 1708.8,798.1C1709.9,798.1 1711.1,797.5 1712.2,796.7C1713.1,796.1 1713.9,792.4 1714.8,791.5C1715.7,790.6 1716.5,789.8 1717.4,789.8C1718.3,789.8 1719.1,791.4 1720.0,792.4C1721.1,793.7 1722.3,796.0 1723.4,796.7C1724.6,797.4 1725.7,798.1 1726.9,798.1C1728.6,798.1 1730.3,797.9 1732.0,797.6C1733.7,797.3 1735.5,795.5 1737.2,795.0C1738.9,794.6 1740.6,794.4 1742.3,794.1C1743.7,793.8 1745.2,793.3 1746.6,793.3C1748.0,793.3 1749.5,794.6 1750.9,795.0C1752.3,795.4 1753.8,795.8 1755.2,795.8C1756.3,795.8 1757.5,793.1 1758.6,792.4C1760.0,791.6 1761.5,790.7 1762.9,790.7C1764.1,790.7 1765.2,792.8 1766.4,793.3C1767.8,793.9 1769.3,794.6 1770.7,794.6C1772.1,794.6 1773.6,793.5 1775.0,793.3C1776.7,793.1 1778.4,792.9 1780.1,792.9C1781.8,792.9 1783.6,794.1 1785.3,794.1C1787.0,794.1 1788.7,793.5 1790.4,793.3C1792.1,793.1 1793.9,792.9 1795.6,792.9C1797.3,792.9 1799.1,793.1 1800.8,793.3C1802.5,793.5 1804.2,794.1 1805.9,794.1C1807.9,794.1 1809.9,794.1 1811.9,794.1"/>
<path class="crv" stroke="#0000ff" stroke-width="7.4" d="M158.0,997.8C158.7,997.8 159.3,997.8 160.0,997.8C183.3,997.8 206.6,997.1 229.9,997.1C247.7,997.1 265.4,997.1 283.2,997.1C290.4,997.1 297.6,996.9 304.8,996.5C308.7,996.3 312.6,991.9 316.5,988.1C320.9,983.8 325.4,975.6 329.8,968.2C334.2,960.8 338.7,951.8 343.1,943.2C347.5,934.6 352.0,925.4 356.4,916.5C360.9,907.6 365.3,898.2 369.8,889.9C374.2,881.6 378.7,873.4 383.1,866.6C387.5,859.8 392.0,853.7 396.4,848.3C400.8,842.9 405.3,836.9 409.7,834.0C413.6,831.4 417.5,828.3 421.4,828.3C425.3,828.3 429.1,830.0 433.0,831.6C437.4,833.5 441.9,838.7 446.3,843.3C450.8,847.9 455.2,853.8 459.7,859.9C464.1,865.9 468.6,873.8 473.0,879.9C477.4,886.0 481.9,892.0 486.3,896.6C490.7,901.2 495.2,905.4 499.6,908.2C505.2,911.8 510.7,913.3 516.3,916.5C521.8,919.7 527.4,924.3 532.9,928.2C538.5,932.1 544.0,936.4 549.6,939.8C555.1,943.2 560.7,946.4 566.2,948.8C571.8,951.2 577.3,953.7 582.9,954.8C588.4,955.9 594.0,956.3 599.5,957.2C605.1,958.1 610.6,959.8 616.2,960.5C619.5,960.9 622.9,961.5 626.2,961.5C629.5,961.5 632.8,960.2 636.1,959.2C640.6,957.8 645.0,953.5 649.5,952.5C655.6,951.1 661.7,949.8 667.8,949.8C672.8,949.8 677.8,953.4 682.8,954.2C687.2,955.0 691.7,955.0 696.1,955.8C701.6,956.8 707.2,961.9 712.7,963.8C718.3,965.7 723.8,967.2 729.4,968.2C736.1,969.4 742.7,969.3 749.4,970.8C750.7,971.1 752.1,972.1 753.4,972.4C758.8,973.6 764.1,974.2 769.5,974.5C775.8,974.9 782.0,975.3 788.3,975.3C795.5,975.3 802.6,973.7 809.8,973.7C817.0,973.7 824.1,973.8 831.3,974.0C838.5,974.2 845.6,974.9 852.8,975.1C860.0,975.3 867.1,975.3 874.3,975.6C881.4,975.9 888.6,976.6 895.7,977.2C902.9,977.8 910.0,978.6 917.2,979.4C924.4,980.2 931.5,981.4 938.7,982.1C945.9,982.8 953.0,983.4 960.2,983.9C967.4,984.4 974.5,984.9 981.7,985.3C988.9,985.7 996.0,986.3 1003.2,986.6C1010.3,986.9 1017.5,987.2 1024.6,987.4C1031.8,987.6 1038.9,987.8 1046.1,988.0C1053.3,988.2 1060.4,988.4 1067.6,988.5C1074.8,988.6 1081.9,988.6 1089.1,988.8C1096.3,989.0 1103.4,990.3 1110.6,990.7C1117.8,991.1 1124.9,991.2 1132.1,991.7C1137.5,992.1 1142.8,993.1 1148.2,993.9C1153.6,994.7 1158.9,996.2 1164.3,996.8C1169.7,997.4 1175.0,998.2 1180.4,998.2C1184.9,998.2 1189.3,997.6 1193.8,996.8C1195.9,996.4 1197.9,995.7 1200.0,994.7C1202.3,993.6 1204.6,991.1 1206.9,988.7C1208.9,986.6 1210.9,984.0 1212.9,981.0C1214.3,978.8 1215.8,976.9 1217.2,973.3C1218.1,971.1 1218.9,966.9 1219.8,963.0C1220.5,960.0 1221.1,956.7 1221.8,952.6C1222.3,949.7 1222.7,945.0 1223.2,942.3C1224.1,937.3 1224.9,934.9 1225.8,930.3C1226.4,927.3 1226.9,922.8 1227.5,920.0C1228.4,915.8 1229.2,913.1 1230.1,909.7C1231.0,906.3 1231.8,902.4 1232.7,899.4C1233.8,895.5 1235.0,891.5 1236.1,889.1C1237.5,886.1 1239.0,884.2 1240.4,882.2C1241.8,880.2 1243.3,878.7 1244.7,877.0C1246.4,875.0 1248.1,874.0 1249.8,871.0C1250.7,869.5 1251.5,865.2 1252.4,863.3C1253.6,860.7 1254.7,859.5 1255.9,857.3C1257.0,855.2 1258.2,852.3 1259.3,850.4C1260.4,848.5 1261.6,846.4 1262.7,845.7C1264.0,844.8 1265.4,844.0 1266.7,844.0C1268.0,844.0 1269.2,845.6 1270.5,846.9C1271.6,848.1 1272.8,850.4 1273.9,852.1C1275.0,853.8 1276.2,856.1 1277.3,857.3C1278.7,858.8 1280.2,859.5 1281.6,860.7C1283.0,861.9 1284.5,864.7 1285.9,864.7C1287.1,864.7 1288.2,862.7 1289.4,862.4C1290.2,862.2 1291.1,861.9 1291.9,861.9C1293.1,861.9 1294.2,863.4 1295.4,865.0C1296.3,866.2 1297.1,869.6 1298.0,871.9C1298.8,874.1 1299.7,877.0 1300.5,878.7C1301.9,881.7 1303.4,882.4 1304.8,885.6C1305.7,887.5 1306.5,892.4 1307.4,894.2C1308.8,897.1 1310.3,897.2 1311.7,900.2C1312.6,902.0 1313.4,907.3 1314.3,909.7C1315.4,912.9 1316.6,914.6 1317.7,917.4C1318.6,919.5 1319.4,922.8 1320.3,924.3C1321.4,926.3 1322.6,927.9 1323.7,928.6C1324.9,929.3 1326.0,930.0 1327.2,930.0C1328.3,930.0 1329.5,928.3 1330.6,926.9C1331.5,925.8 1332.3,922.6 1333.2,921.7C1334.1,920.8 1334.9,920.0 1335.8,920.0C1336.9,920.0 1338.1,920.8 1339.2,920.8C1340.6,920.8 1342.1,920.0 1343.5,920.0C1344.4,920.0 1345.2,924.1 1346.1,926.9C1347.0,929.7 1347.8,935.3 1348.7,937.2C1349.5,939.0 1350.4,941.0 1351.2,941.0C1352.4,941.0 1353.5,939.3 1354.7,937.2C1355.3,936.2 1355.8,931.2 1356.4,930.3C1357.0,929.4 1357.5,928.6 1358.1,928.6C1358.7,928.6 1359.2,932.6 1359.8,933.7C1360.7,935.4 1361.5,937.2 1362.4,937.2C1363.0,937.2 1363.5,935.2 1364.1,933.7C1364.7,932.2 1365.2,927.5 1365.8,926.9C1367.0,925.6 1368.1,924.8 1369.3,924.8C1370.4,924.8 1371.6,926.0 1372.7,926.0C1373.9,926.0 1375.0,921.7 1376.2,921.7C1377.0,921.7 1377.9,923.4 1378.7,925.1C1379.3,926.3 1379.9,930.2 1380.5,932.0C1381.3,934.5 1382.2,937.2 1383.0,938.0C1384.2,939.2 1385.3,940.1 1386.5,940.1C1387.6,940.1 1388.8,938.3 1389.9,935.5C1390.5,934.1 1391.0,927.2 1391.6,923.4C1392.0,920.7 1392.4,916.2 1392.8,915.7C1393.3,915.1 1393.7,914.8 1394.2,914.8C1394.8,914.8 1395.3,918.8 1395.9,920.0C1396.8,921.9 1397.6,923.7 1398.5,924.3C1399.9,925.3 1401.4,925.0 1402.8,926.0C1403.7,926.6 1404.5,929.9 1405.4,932.0C1406.5,934.7 1407.7,938.2 1408.8,940.6C1409.9,943.0 1411.1,945.4 1412.2,946.6C1413.4,947.8 1414.5,949.2 1415.7,949.2C1416.8,949.2 1418.0,947.5 1419.1,945.8C1420.0,944.5 1420.8,941.2 1421.7,938.9C1422.6,936.6 1423.4,933.5 1424.3,932.0C1425.2,930.5 1426.0,928.9 1426.9,928.6C1428.3,928.1 1429.7,928.2 1431.1,927.7C1432.3,927.3 1433.4,926.9 1434.6,925.1C1435.0,924.5 1435.4,916.7 1435.8,914.8C1436.5,911.3 1437.3,908.3 1438.0,908.0C1439.4,907.4 1440.9,907.6 1442.3,907.1C1443.5,906.7 1444.6,905.4 1445.8,904.5C1447.2,903.3 1448.7,900.7 1450.1,900.7C1450.9,900.7 1451.8,902.4 1452.6,903.7C1453.5,905.1 1454.3,908.8 1455.2,909.7C1456.6,911.3 1458.1,912.5 1459.5,912.6C1461.5,912.7 1463.5,912.7 1465.5,912.8C1466.9,912.9 1468.4,913.9 1469.8,914.8C1471.2,915.7 1472.7,917.5 1474.1,919.1C1475.5,920.7 1477.0,922.6 1478.4,924.3C1479.8,926.0 1481.3,929.0 1482.7,929.4C1483.8,929.7 1485.0,930.0 1486.1,930.0C1487.3,930.0 1488.4,928.5 1489.6,926.9C1490.5,925.7 1491.3,922.2 1492.2,920.0C1492.8,918.5 1493.3,916.1 1493.9,915.7C1494.6,915.2 1495.2,914.8 1495.9,914.8C1496.9,914.8 1498.0,916.5 1499.0,917.4C1499.3,917.7 1499.7,917.9 1500.0,918.3C1501.1,919.7 1502.3,924.2 1503.4,926.9C1504.6,929.6 1505.7,933.5 1506.9,934.6C1508.2,935.8 1509.4,936.8 1510.7,936.8C1512.0,936.8 1513.3,936.1 1514.6,935.5C1516.0,934.8 1517.5,932.7 1518.9,931.7C1520.3,930.7 1521.8,929.7 1523.2,929.4C1524.3,929.1 1525.5,928.9 1526.6,928.9C1527.8,928.9 1528.9,930.2 1530.1,931.2C1531.5,932.4 1533.0,934.7 1534.4,936.3C1535.8,937.9 1537.3,939.5 1538.7,940.6C1539.8,941.5 1541.0,942.8 1542.1,942.8C1543.2,942.8 1544.4,942.0 1545.5,942.0C1546.4,942.0 1547.2,942.6 1548.1,943.2C1549.0,943.8 1549.8,945.9 1550.7,947.5C1551.6,949.1 1552.4,951.3 1553.3,952.6C1554.7,954.8 1556.2,956.6 1557.6,957.8C1559.0,959.0 1560.5,960.7 1561.9,960.7C1563.3,960.7 1564.8,960.7 1566.2,960.7C1567.0,960.7 1567.9,961.4 1568.7,962.1C1569.6,962.9 1570.4,966.4 1571.3,968.1C1572.5,970.4 1573.6,972.4 1574.8,974.1C1576.2,976.1 1577.7,978.3 1579.1,979.3C1581.4,981.0 1583.6,981.4 1585.9,982.7C1588.2,984.0 1590.5,985.8 1592.8,987.0C1594.8,988.0 1596.8,989.6 1598.8,989.6C1600.2,989.6 1601.7,989.6 1603.1,989.6C1604.3,989.6 1605.4,989.1 1606.6,989.1C1608.0,989.1 1609.4,991.6 1610.8,992.2C1612.8,993.0 1614.9,993.4 1616.9,993.9C1619.2,994.4 1621.4,994.7 1623.7,995.3C1625.4,995.7 1627.2,996.8 1628.9,997.0C1630.6,997.2 1632.3,997.3 1634.0,997.3C1635.4,997.3 1636.9,997.0 1638.3,996.5C1639.2,996.2 1640.0,993.8 1640.9,992.2C1641.8,990.6 1642.6,989.0 1643.5,987.0C1644.4,985.0 1645.2,981.5 1646.1,980.1C1647.2,978.3 1648.4,976.4 1649.5,976.4C1650.7,976.4 1651.8,978.0 1653.0,978.4C1654.1,978.8 1655.3,979.3 1656.4,979.3C1658.1,979.3 1659.8,978.5 1661.5,978.4C1663.2,978.2 1665.0,978.2 1666.7,978.1C1668.1,978.0 1669.6,977.6 1671.0,977.6C1671.9,977.6 1672.7,979.3 1673.6,980.1C1674.5,980.9 1675.3,982.2 1676.2,982.2C1677.0,982.2 1677.9,982.1 1678.7,981.9C1679.2,981.8 1679.6,976.9 1680.1,975.8C1680.8,974.1 1681.5,972.4 1682.2,972.4C1683.3,972.4 1684.5,973.3 1685.6,973.3C1687.3,973.3 1689.1,972.9 1690.8,972.9C1691.9,972.9 1693.1,974.4 1694.2,975.3C1695.3,976.2 1696.5,977.8 1697.6,978.8C1699.0,980.0 1700.5,980.8 1701.9,981.9C1703.3,983.0 1704.8,984.5 1706.2,985.3C1707.6,986.1 1709.1,987.0 1710.5,987.0C1711.7,987.0 1712.8,986.4 1714.0,985.3C1714.6,984.8 1715.1,980.4 1715.7,979.3C1716.6,977.6 1717.4,975.8 1718.3,975.8C1719.1,975.8 1720.0,977.4 1720.8,978.4C1721.7,979.4 1722.5,981.4 1723.4,981.9C1724.6,982.6 1725.7,983.2 1726.9,983.2C1728.6,983.2 1730.3,983.2 1732.0,983.2C1733.4,983.2 1734.9,982.5 1736.3,981.9C1737.2,981.5 1738.0,980.1 1738.9,980.1C1740.6,980.1 1742.3,980.1 1744.0,980.1C1745.7,980.1 1747.5,980.1 1749.2,980.1C1750.9,980.1 1752.7,979.8 1754.4,979.8C1756.1,979.8 1757.8,979.8 1759.5,979.8C1761.2,979.8 1763.0,979.9 1764.7,980.1C1766.1,980.2 1767.6,981.0 1769.0,981.0C1770.4,981.0 1771.9,978.4 1773.3,978.4C1774.7,978.4 1776.2,979.0 1777.6,979.3C1779.0,979.6 1780.4,979.8 1781.8,980.1C1783.2,980.4 1784.7,981.0 1786.1,981.0C1787.5,981.0 1789.0,981.0 1790.4,981.0C1792.1,981.0 1793.9,980.7 1795.6,980.7C1797.3,980.7 1799.1,981.0 1800.8,981.3C1802.5,981.6 1804.2,983.0 1805.9,983.2C1807.9,983.4 1809.9,983.5 1811.9,983.6"/>
<path class="crv" stroke="#ff00ff" stroke-width="7.4" d="M158.0,1178.2C158.7,1178.2 159.3,1178.2 160.0,1178.2C173.3,1178.2 186.6,1177.6 199.9,1177.2C209.9,1176.9 219.9,1175.8 229.9,1175.8C238.8,1175.8 247.7,1177.2 256.6,1177.2C263.2,1177.2 269.9,1175.8 276.5,1175.8C282.1,1175.8 287.6,1177.2 293.2,1177.2C297.6,1177.2 302.1,1176.6 306.5,1175.8C309.8,1175.2 313.2,1171.9 316.5,1169.2C320.9,1165.6 325.4,1159.9 329.8,1154.8C334.2,1149.7 338.7,1143.7 343.1,1138.2C347.5,1132.7 352.0,1127.0 356.4,1121.5C360.9,1115.9 365.3,1110.2 369.8,1104.9C374.2,1099.7 378.7,1094.3 383.1,1089.9C387.5,1085.5 392.0,1081.7 396.4,1078.3C400.8,1074.9 405.3,1071.1 409.7,1069.3C414.1,1067.5 418.6,1065.3 423.0,1065.3C426.3,1065.3 429.7,1065.4 433.0,1065.6C437.4,1065.8 441.9,1068.0 446.3,1069.9C450.8,1071.8 455.2,1075.0 459.7,1078.3C464.1,1081.5 468.6,1086.8 473.0,1089.9C477.4,1093.0 481.9,1095.8 486.3,1097.6C490.7,1099.4 495.2,1100.5 499.6,1101.6C505.2,1102.9 510.7,1103.5 516.3,1104.9C521.8,1106.3 527.4,1108.7 532.9,1110.6C538.5,1112.6 544.0,1115.0 549.6,1116.6C555.1,1118.2 560.7,1119.5 566.2,1120.5C570.6,1121.3 575.1,1122.5 579.5,1122.5C586.2,1122.5 592.8,1121.5 599.5,1121.5C605.1,1121.5 610.6,1123.7 616.2,1123.9C620.6,1124.1 625.1,1124.2 629.5,1124.2C632.8,1124.2 636.2,1121.1 639.5,1119.2C642.8,1117.3 646.2,1113.5 649.5,1112.6C652.8,1111.7 656.2,1111.7 659.5,1110.9C662.3,1110.3 665.0,1108.2 667.8,1108.2C670.6,1108.2 673.3,1113.7 676.1,1114.2C682.8,1115.3 689.4,1114.8 696.1,1115.9C700.5,1116.6 705.0,1123.5 709.4,1124.9C716.1,1127.0 722.7,1128.0 729.4,1128.9C736.1,1129.8 742.7,1129.8 749.4,1130.9C751.6,1131.3 753.9,1132.3 756.1,1132.7C762.4,1133.9 768.6,1135.4 774.9,1135.4C782.1,1135.4 789.2,1135.4 796.4,1135.4C802.7,1135.4 808.9,1133.5 815.2,1133.5C822.4,1133.5 829.5,1134.8 836.7,1135.1C845.6,1135.4 854.6,1135.4 863.5,1135.7C870.7,1136.0 877.8,1136.8 885.0,1137.6C892.2,1138.4 899.3,1139.6 906.5,1140.5C913.7,1141.4 920.8,1142.1 928.0,1142.9C935.2,1143.7 942.3,1144.7 949.5,1145.6C956.6,1146.5 963.8,1147.7 970.9,1148.6C978.1,1149.5 985.2,1150.4 992.4,1151.2C999.6,1152.0 1006.7,1152.7 1013.9,1153.4C1021.1,1154.1 1028.2,1154.8 1035.4,1155.5C1042.6,1156.2 1049.7,1157.1 1056.9,1157.7C1064.0,1158.3 1071.2,1158.6 1078.3,1159.3C1085.5,1160.0 1092.6,1161.3 1099.8,1162.3C1107.0,1163.3 1114.1,1164.3 1121.3,1165.2C1128.5,1166.1 1135.6,1166.6 1142.8,1167.9C1148.2,1168.9 1153.5,1170.9 1158.9,1172.5C1163.4,1173.8 1167.8,1175.7 1172.3,1176.5C1175.9,1177.1 1179.5,1177.8 1183.1,1177.8C1186.7,1177.8 1190.2,1177.3 1193.8,1176.5C1195.9,1176.1 1197.9,1174.5 1200.0,1172.7C1202.0,1170.9 1204.0,1166.8 1206.0,1163.3C1207.7,1160.3 1209.5,1156.8 1211.2,1153.0C1212.6,1149.9 1214.1,1147.6 1215.5,1142.6C1216.3,1139.7 1217.2,1133.1 1218.0,1128.9C1218.9,1124.6 1219.7,1122.1 1220.6,1116.9C1221.2,1113.5 1221.7,1106.8 1222.3,1103.1C1223.2,1097.5 1224.0,1094.0 1224.9,1089.4C1225.8,1084.8 1226.6,1079.5 1227.5,1075.6C1228.4,1071.7 1229.2,1067.8 1230.1,1065.3C1231.2,1062.0 1232.4,1059.9 1233.5,1057.6C1234.9,1054.7 1236.4,1051.6 1237.8,1049.8C1239.5,1047.6 1241.3,1046.0 1243.0,1044.7C1245.3,1042.9 1247.5,1042.3 1249.8,1040.4C1251.5,1039.0 1253.3,1036.4 1255.0,1034.4C1256.4,1032.7 1257.9,1030.4 1259.3,1029.2C1260.7,1028.0 1262.2,1026.6 1263.6,1026.6C1265.0,1026.6 1266.5,1027.0 1267.9,1027.5C1269.0,1027.9 1270.2,1030.3 1271.3,1031.8C1272.7,1033.7 1274.2,1036.4 1275.6,1037.8C1277.0,1039.2 1278.5,1040.4 1279.9,1040.9C1281.6,1041.5 1283.4,1042.1 1285.1,1042.1C1286.5,1042.1 1288.0,1041.4 1289.4,1040.4C1290.2,1039.8 1291.1,1036.7 1291.9,1036.1C1292.8,1035.5 1293.6,1034.9 1294.5,1034.9C1295.4,1034.9 1296.2,1035.9 1297.1,1036.9C1298.0,1037.9 1298.8,1041.3 1299.7,1043.0C1301.1,1045.8 1302.6,1047.1 1304.0,1049.8C1305.1,1051.9 1306.3,1055.6 1307.4,1057.6C1308.8,1060.1 1310.3,1060.8 1311.7,1063.6C1312.8,1065.8 1314.0,1071.0 1315.1,1073.9C1316.3,1076.9 1317.4,1079.0 1318.6,1081.6C1319.5,1083.6 1320.3,1086.2 1321.2,1087.6C1322.6,1089.8 1324.1,1092.3 1325.5,1092.5C1326.9,1092.7 1328.4,1092.8 1329.8,1092.8C1330.6,1092.8 1331.5,1088.6 1332.3,1087.6C1333.5,1086.2 1334.6,1084.6 1335.8,1084.6C1336.9,1084.6 1338.1,1085.1 1339.2,1085.1C1340.6,1085.1 1342.1,1082.8 1343.5,1082.8C1344.4,1082.8 1345.2,1084.2 1346.1,1085.9C1346.7,1087.0 1347.2,1092.2 1347.8,1094.5C1348.7,1098.0 1349.5,1102.0 1350.4,1103.1C1351.3,1104.2 1352.1,1105.2 1353.0,1105.2C1353.8,1105.2 1354.7,1101.5 1355.5,1099.7C1356.1,1098.4 1356.7,1095.9 1357.3,1095.9C1358.1,1095.9 1359.0,1096.9 1359.8,1098.0C1360.4,1098.8 1360.9,1103.1 1361.5,1103.1C1362.4,1103.1 1363.2,1102.3 1364.1,1101.4C1365.0,1100.5 1365.8,1093.9 1366.7,1092.8C1367.8,1091.4 1369.0,1090.6 1370.1,1090.2C1371.3,1089.8 1372.4,1089.9 1373.6,1089.4C1374.5,1089.0 1375.3,1085.9 1376.2,1085.9C1377.0,1085.9 1377.9,1086.7 1378.7,1087.6C1379.6,1088.5 1380.4,1092.2 1381.3,1094.5C1382.2,1096.8 1383.0,1100.1 1383.9,1101.4C1384.8,1102.7 1385.6,1104.0 1386.5,1104.0C1387.6,1104.0 1388.8,1103.1 1389.9,1101.4C1390.5,1100.6 1391.0,1095.0 1391.6,1091.1C1392.0,1088.3 1392.4,1081.9 1392.8,1081.6C1393.6,1081.0 1394.3,1080.8 1395.1,1080.8C1395.7,1080.8 1396.2,1084.7 1396.8,1085.9C1397.7,1087.8 1398.5,1089.8 1399.4,1090.2C1400.5,1090.7 1401.7,1090.6 1402.8,1091.1C1403.7,1091.5 1404.5,1094.3 1405.4,1096.2C1406.5,1098.7 1407.7,1102.2 1408.8,1104.8C1409.9,1107.4 1411.1,1110.2 1412.2,1111.7C1413.4,1113.2 1414.5,1115.1 1415.7,1115.1C1416.8,1115.1 1418.0,1113.9 1419.1,1112.6C1420.0,1111.6 1420.8,1108.7 1421.7,1106.6C1422.6,1104.5 1423.4,1101.3 1424.3,1099.7C1425.2,1098.1 1426.0,1096.4 1426.9,1095.9C1428.3,1095.1 1429.7,1095.2 1431.1,1094.5C1432.3,1093.9 1433.4,1092.7 1434.6,1090.2C1435.2,1089.0 1435.7,1082.7 1436.3,1080.8C1437.2,1077.9 1438.0,1075.6 1438.9,1074.8C1440.0,1073.8 1441.2,1073.7 1442.3,1073.0C1443.5,1072.3 1444.6,1071.6 1445.8,1070.5C1446.9,1069.4 1448.1,1065.7 1449.2,1065.3C1449.9,1065.0 1450.6,1064.8 1451.3,1064.8C1452.0,1064.8 1452.8,1067.3 1453.5,1068.7C1454.4,1070.3 1455.2,1073.2 1456.1,1073.9C1457.2,1074.8 1458.4,1075.4 1459.5,1075.6C1461.5,1075.9 1463.5,1075.8 1465.5,1076.1C1466.9,1076.3 1468.4,1076.7 1469.8,1077.3C1471.2,1077.9 1472.7,1079.3 1474.1,1080.8C1475.5,1082.3 1477.0,1085.0 1478.4,1086.8C1479.8,1088.6 1481.3,1091.5 1482.7,1091.9C1483.8,1092.2 1485.0,1092.5 1486.1,1092.5C1487.3,1092.5 1488.4,1091.4 1489.6,1090.2C1490.5,1089.3 1491.3,1085.9 1492.2,1084.2C1493.0,1082.6 1493.9,1080.5 1494.7,1079.9C1495.6,1079.3 1496.4,1078.7 1497.3,1078.7C1498.2,1078.7 1499.1,1079.8 1500.0,1080.8C1501.1,1082.1 1502.3,1086.9 1503.4,1089.4C1504.6,1092.0 1505.7,1094.9 1506.9,1096.2C1508.2,1097.7 1509.4,1099.3 1510.7,1099.3C1512.6,1099.3 1514.4,1098.8 1516.3,1098.3C1518.0,1097.8 1519.8,1095.1 1521.5,1094.2C1523.5,1093.2 1525.5,1091.9 1527.5,1091.9C1528.9,1091.9 1530.4,1094.2 1531.8,1095.9C1532.9,1097.3 1534.1,1100.0 1535.2,1101.4C1536.6,1103.2 1538.1,1104.9 1539.5,1105.7C1540.9,1106.5 1542.4,1107.4 1543.8,1107.4C1545.2,1107.4 1546.7,1107.4 1548.1,1107.4C1549.0,1107.4 1549.8,1109.9 1550.7,1111.7C1551.6,1113.5 1552.4,1117.0 1553.3,1118.6C1554.7,1121.3 1556.2,1123.1 1557.6,1124.6C1559.3,1126.4 1561.0,1128.9 1562.7,1128.9C1564.4,1128.9 1566.2,1126.8 1567.9,1126.8C1568.8,1126.8 1569.6,1131.2 1570.5,1133.2C1571.6,1135.9 1572.8,1138.8 1573.9,1140.9C1575.3,1143.6 1576.8,1146.2 1578.2,1147.8C1579.9,1149.7 1581.7,1151.2 1583.4,1152.1C1584.8,1152.9 1586.2,1153.0 1587.6,1153.8C1589.6,1154.9 1591.7,1157.6 1593.7,1159.0C1595.7,1160.4 1597.7,1162.4 1599.7,1162.4C1601.7,1162.4 1603.7,1160.7 1605.7,1160.7C1607.7,1160.7 1609.7,1162.5 1611.7,1163.3C1614.0,1164.2 1616.3,1164.8 1618.6,1165.8C1620.9,1166.8 1623.2,1168.1 1625.5,1169.3C1627.2,1170.2 1628.9,1171.7 1630.6,1171.9C1631.7,1172.1 1632.9,1172.2 1634.0,1172.2C1635.4,1172.2 1636.9,1170.9 1638.3,1169.3C1639.2,1168.3 1640.0,1164.7 1640.9,1162.4C1641.8,1160.1 1642.6,1157.6 1643.5,1155.5C1644.4,1153.4 1645.2,1150.5 1646.1,1149.5C1647.2,1148.2 1648.4,1146.9 1649.5,1146.9C1651.2,1146.9 1653.0,1147.5 1654.7,1147.8C1657.0,1148.1 1659.2,1148.2 1661.5,1148.7C1663.5,1149.1 1665.6,1151.2 1667.6,1151.2C1669.3,1151.2 1671.0,1151.2 1672.7,1151.2C1673.3,1151.2 1673.8,1155.4 1674.4,1156.4C1675.2,1157.7 1675.9,1159.0 1676.7,1159.0C1677.7,1159.0 1678.6,1154.6 1679.6,1153.0C1680.5,1151.6 1681.3,1149.8 1682.2,1149.5C1683.6,1149.0 1685.1,1149.0 1686.5,1148.7C1687.9,1148.4 1689.4,1147.8 1690.8,1147.8C1692.2,1147.8 1693.7,1148.6 1695.1,1149.5C1696.5,1150.4 1698.0,1153.8 1699.4,1155.5C1701.1,1157.5 1702.8,1159.0 1704.5,1160.7C1705.6,1161.8 1706.8,1163.6 1707.9,1164.1C1708.9,1164.6 1710.0,1165.0 1711.0,1165.0C1712.3,1165.0 1713.5,1164.1 1714.8,1162.4C1715.3,1161.8 1715.7,1156.2 1716.2,1155.5C1717.2,1154.0 1718.1,1153.0 1719.1,1153.0C1720.0,1153.0 1720.8,1153.8 1721.7,1154.7C1722.6,1155.5 1723.4,1158.9 1724.3,1159.8C1725.7,1161.3 1727.2,1162.7 1728.6,1162.7C1730.0,1162.7 1731.5,1162.6 1732.9,1162.4C1734.3,1162.2 1735.8,1159.8 1737.2,1159.0C1738.0,1158.5 1738.9,1157.8 1739.7,1157.8C1741.1,1157.8 1742.6,1159.5 1744.0,1159.5C1746.3,1159.5 1748.6,1159.5 1750.9,1159.5C1753.2,1159.5 1755.5,1160.2 1757.8,1160.2C1760.1,1160.2 1762.4,1160.2 1764.7,1160.2C1766.1,1160.2 1767.6,1161.2 1769.0,1161.2C1770.7,1161.2 1772.4,1160.2 1774.1,1159.8C1775.5,1159.5 1777.0,1159.0 1778.4,1159.0C1780.1,1159.0 1781.9,1159.6 1783.6,1160.2C1785.0,1160.7 1786.5,1162.4 1787.9,1162.4C1789.6,1162.4 1791.3,1161.0 1793.0,1161.0C1795.0,1161.0 1797.0,1162.4 1799.0,1162.4C1801.3,1162.4 1803.6,1162.4 1805.9,1162.4C1807.9,1162.4 1809.9,1162.4 1811.9,1162.4"/>
</g>
<g id="arrows">
<line x1="622.5" y1="308.8" x2="628.5" y2="367.6" stroke="#ff0000" stroke-width="3.0"/><polygon points="621.2,366.3 631.3,395.4 635.4,364.8" fill="#ff0000" stroke="#ff0000" stroke-width="3.0" stroke-linejoin="round"/>
<line x1="1130.0" y1="276.0" x2="1205.1" y2="346.3" stroke="#ff0000" stroke-width="3.0"/><polygon points="1198.8,350.1 1225.5,365.5 1208.5,339.8" fill="#ff0000" stroke="#ff0000" stroke-width="3.0" stroke-linejoin="round"/>
<line x1="1254.5" y1="181.0" x2="1254.4" y2="275.5" stroke="#ff0000" stroke-width="3.0"/><polygon points="1247.3,273.5 1254.4,303.5 1261.5,273.5" fill="#ff0000" stroke="#ff0000" stroke-width="3.0" stroke-linejoin="round"/>
<line x1="1395.6" y1="155.8" x2="1394.6" y2="339.7" stroke="#ff0000" stroke-width="3.0"/><polygon points="1387.5,337.7 1394.4,367.7 1401.7,337.7" fill="#ff0000" stroke="#ff0000" stroke-width="3.0" stroke-linejoin="round"/>
<line x1="1449.9" y1="210.5" x2="1450.0" y2="302.7" stroke="#ff0000" stroke-width="3.0"/><polygon points="1442.9,300.7 1450.0,330.7 1457.1,300.7" fill="#ff0000" stroke="#ff0000" stroke-width="3.0" stroke-linejoin="round"/>
<line x1="1550.7" y1="278.4" x2="1550.3" y2="368.9" stroke="#ff0000" stroke-width="3.0"/><polygon points="1543.2,366.9 1550.2,396.9 1557.4,366.9" fill="#ff0000" stroke="#ff0000" stroke-width="3.0" stroke-linejoin="round"/>
<line x1="1610.5" y1="328.8" x2="1610.5" y2="378.8" stroke="#ff0000" stroke-width="3.0"/><polygon points="1603.4,376.8 1610.5,406.8 1617.6,376.8" fill="#ff0000" stroke="#ff0000" stroke-width="3.0" stroke-linejoin="round"/>
</g>
<g id="annotations">
<text x="173.8" y="96.4" font-size="63" class="b" letter-spacing="0.07">Coumarin-COOH BZ/PVP = 50/50</text>
<text x="715.9" y="1436.4" font-size="63" class="b" letter-spacing="0.137">Wavenumber (cm<tspan font-size="38" dy="-30.6">-1</tspan><tspan dy="30.6">)</tspan></text>
<text x="54.0" y="939.5" font-size="62.5" class="b" transform="rotate(-90 54.0 939.5)" letter-spacing="0.238">Absorbance (a.u.)</text>
<text x="107.3" y="1325.0" font-size="50" letter-spacing="1.533">4000</text>
<text x="343.7" y="1325.0" font-size="50" letter-spacing="1.967">3500</text>
<text x="579.2" y="1325.0" font-size="50" letter-spacing="1.833">3000</text>
<text x="813.9" y="1325.0" font-size="50" letter-spacing="2.233">2500</text>
<text x="1050.3" y="1325.0" font-size="50" letter-spacing="1.867">2000</text>
<text x="1288.6" y="1325.0" font-size="50" letter-spacing="1.267">1500</text>
<text x="1525.0" y="1325.0" font-size="50" letter-spacing="0.933">1000</text>
<text x="1771.1" y="1325.0" font-size="50" letter-spacing="1.45">500</text>
<text x="1030.1" y="245.2" font-size="51.5" letter-spacing="-0.087">1732 cm<tspan font-size="31" dy="-26.2">-1</tspan></text>
<text x="1381.8" y="145.1" font-size="51.5" letter-spacing="0.15">1385 cm<tspan font-size="31" dy="-26.2">-1</tspan></text>
<text x="1443.7" y="202.2" font-size="51.5" letter-spacing="0.062">1269 cm<tspan font-size="31" dy="-26.2">-1</tspan></text>
<text x="1539.7" y="262.2" font-size="51.5" letter-spacing="-0.025">1055 cm<tspan font-size="31" dy="-26.2">-1</tspan></text>
<text x="1600.6" y="317.1" font-size="51.5" letter-spacing="0.3">924 cm<tspan font-size="31" dy="-26.2">-1</tspan></text>
<text x="537.7" y="293.1" font-size="64" class="r" letter-spacing="0.067">COOH</text>
<text x="1193.1" y="168.2" font-size="64" class="r" letter-spacing="-0.85">C=O</text>
</g>
</svg>
</body>
</html>
